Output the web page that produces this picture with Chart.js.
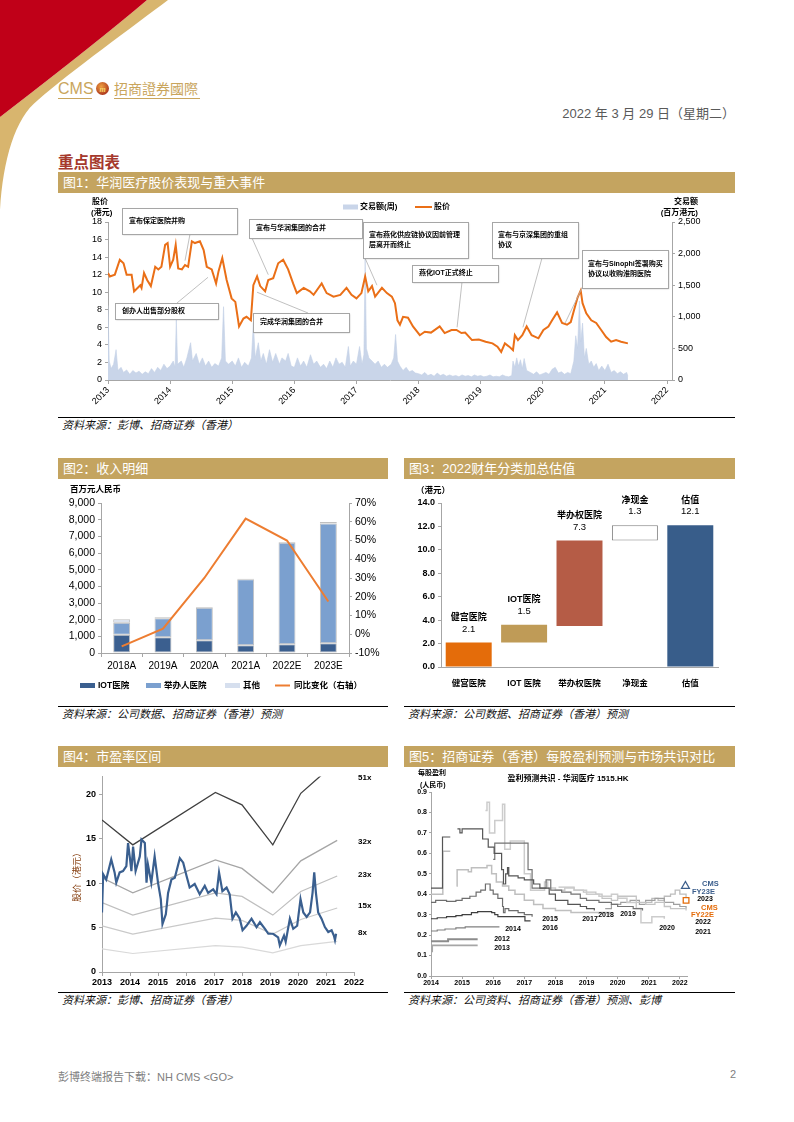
<!DOCTYPE html>
<html>
<head>
<meta charset="utf-8">
<title>华润医疗 重点图表</title>
<script src="https://cdn.jsdelivr.net/npm/chart.js@4.4.1/dist/chart.umd.min.js"></script>
<style>
  body { margin: 0; background: #fff; }
  #page { position: relative; width: 794px; height: 1122px; overflow: hidden; background: #fff;
          font-family: "Liberation Sans", "Noto Sans CJK SC", sans-serif; }
  .t { position: absolute; white-space: nowrap; }
  .bar { position: absolute; height: 21px; background: #c4a460; color: #fff; font-size: 13px;
         line-height: 21px; padding-left: 5px; box-sizing: border-box; white-space: nowrap; }
  .src { position: absolute; border-top: 1.2px solid #000; font-size: 11px; font-style: italic;
         line-height: 15px; padding-left: 4px; box-sizing: border-box; white-space: nowrap; color: #111; }
  canvas { position: absolute; }
</style>
</head>
<body>
<div id="page">
  <svg class="t" style="left:0;top:0" width="794" height="230">
    <path d="M0,0 L168,0 C135,25 70,72 38,100 C15,118 3,160 0,210 L0,117 Q100,40 147,0 Z" fill="#d8b56e"/>
    <path d="M0,0 L147,0 Q100,40 0,117 Z" fill="#c00018"/>
    <text x="58" y="94" font-size="16" fill="#c9a55c" font-family="Liberation Sans">CMS</text>
    <line x1="58" y1="98.5" x2="92" y2="98.5" stroke="#c9a55c" stroke-width="1"/>
    <defs><radialGradient id="lg" cx="40%" cy="35%" r="70%"><stop offset="0" stop-color="#f0a040"/><stop offset="1" stop-color="#a8301a"/></radialGradient></defs>
    <circle cx="102.5" cy="88.5" r="6.5" fill="url(#lg)"/>
    <text x="102.5" y="91.5" font-size="8" font-style="italic" font-weight="bold" text-anchor="middle" fill="#f7d56a" font-family="Liberation Serif">m</text>
    <text x="114" y="94" font-size="14" fill="#c9a55c" font-family="Noto Sans CJK TC">招商證券國際</text>
    <line x1="114" y1="98.5" x2="200" y2="98.5" stroke="#c9a55c" stroke-width="1"/>
  </svg>

  <div class="t" style="right:59px;top:103px;font-size:13px;color:#595959;">2022 年 3 月 29 日（星期二）</div>
  <div class="t" style="left:58px;top:150px;font-size:15.5px;font-weight:bold;color:#a5392c;">重点图表</div>

  <div class="bar" style="left:58px;top:172px;width:677px;">图1：华润医疗股价表现与重大事件</div>
  <canvas id="c1" width="677" height="223" style="left:58px;top:193px;"></canvas>
  <div class="src" style="left:58px;top:417px;width:677px;">资料来源：彭博、招商证券（香港）</div>

  <div class="bar" style="left:58px;top:458px;width:330px;">图2：收入明细</div>
  <canvas id="c2" width="332" height="225" style="left:58px;top:481px;"></canvas>
  <div class="src" style="left:58px;top:706px;width:330px;">资料来源：公司数据、招商证券（香港）预测</div>

  <div class="bar" style="left:404px;top:458px;width:331px;">图3：2022财年分类加总估值</div>
  <canvas id="c3" width="331" height="225" style="left:404px;top:481px;"></canvas>
  <div class="src" style="left:404px;top:706px;width:331px;">资料来源：公司数据、招商证券（香港）预测</div>

  <div class="bar" style="left:58px;top:746px;width:330px;">图4：市盈率区间</div>
  <canvas id="c4" width="332" height="222" style="left:58px;top:768px;"></canvas>
  <div class="src" style="left:58px;top:992px;width:330px;">资料来源：彭博、招商证券（香港）</div>

  <div class="bar" style="left:404px;top:746px;width:331px;">图5：招商证券（香港）每股盈利预测与市场共识对比</div>
  <canvas id="c5" width="331" height="222" style="left:404px;top:768px;"></canvas>
  <div class="src" style="left:404px;top:992px;width:331px;">资料来源：公司资料、招商证券（香港）预测、彭博</div>

  <div class="t" style="left:58px;top:1068px;font-size:11px;color:#808080;">彭博终端报告下载：NH CMS &lt;GO&gt;</div>
  <div class="t" style="left:730px;top:1068px;font-size:11px;color:#808080;">2</div>
</div>

<script>
// ---------- 图1：股价 (港元) 与 交易额 (百万港元) ----------
const priceDates = [2013.00, 2013.03, 2013.11, 2013.19, 2013.25, 2013.30, 2013.38, 2013.42, 2013.52, 2013.54,
  2013.58, 2013.63, 2013.69, 2013.76, 2013.81, 2013.86, 2013.92, 2013.96, 2014.00, 2014.05,
  2014.09, 2014.13, 2014.19, 2014.24, 2014.29, 2014.35, 2014.40, 2014.48, 2014.54, 2014.59,
  2014.67, 2014.74, 2014.78, 2014.84, 2014.91, 2014.99, 2015.05, 2015.11, 2015.18, 2015.23,
  2015.30, 2015.34, 2015.40, 2015.45, 2015.53, 2015.58, 2015.66, 2015.74, 2015.82, 2015.90,
  2015.98, 2016.04, 2016.15, 2016.25, 2016.31, 2016.44, 2016.52, 2016.63, 2016.74, 2016.84,
  2016.92, 2017.00, 2017.08, 2017.14, 2017.19, 2017.25, 2017.30, 2017.41, 2017.49, 2017.57,
  2017.62, 2017.66, 2017.70, 2017.75, 2017.83, 2017.91, 2018.02, 2018.10, 2018.20, 2018.34,
  2018.42, 2018.53, 2018.61, 2018.69, 2018.75, 2018.86, 2018.97, 2019.08, 2019.19, 2019.27,
  2019.33, 2019.39, 2019.46, 2019.52, 2019.55, 2019.60, 2019.67, 2019.74, 2019.82, 2019.93,
  2020.01, 2020.09, 2020.15, 2020.23, 2020.31, 2020.39, 2020.45, 2020.50, 2020.56, 2020.61,
  2020.64, 2020.70, 2020.78, 2020.86, 2020.94, 2021.02, 2021.10, 2021.18, 2021.26, 2021.37];
const priceValues = [12.2, 11.8, 12.0, 13.7, 13.3, 12.0, 12.0, 10.1, 10.8, 10.5,
  12.2, 11.4, 10.7, 12.9, 12.6, 12.9, 15.4, 15.6, 12.9, 13.7,
  15.4, 12.7, 12.6, 13.1, 12.9, 15.8, 15.6, 15.8, 14.8, 12.9,
  12.6, 11.0, 12.4, 13.9, 11.4, 9.3, 8.9, 6.1, 7.0, 7.2,
  6.8, 10.8, 11.8, 10.7, 10.1, 11.4, 11.6, 13.3, 13.7, 12.6,
  11.0, 9.9, 10.5, 10.1, 9.7, 11.0, 9.9, 9.5, 9.7, 10.5,
  9.7, 9.3, 9.9, 11.8, 10.1, 10.7, 9.5, 10.5, 9.9, 9.5,
  8.75, 6.8, 6.3, 7.2, 7.1, 6.1, 5.1, 5.5, 5.4, 6.1,
  5.35, 5.7, 5.7, 5.35, 5.4, 4.55, 4.6, 4.36, 4.17, 3.8,
  3.2, 4.17, 3.8, 3.4, 5.1, 4.55, 5.1, 6.1, 5.1, 4.75,
  5.7, 6.1, 6.8, 7.7, 6.5, 6.3, 6.6, 7.9, 9.4, 10.2,
  8.75, 7.6, 6.8, 6.5, 5.7, 4.9, 4.36, 4.55, 4.36, 4.17];
const volDates = [
  2013.00, 2013.02, 2013.05, 2013.09, 2013.13, 2013.16, 2013.21, 2013.25, 2013.30, 2013.35, 2013.40, 2013.45,
  2013.50, 2013.55, 2013.60, 2013.65, 2013.70, 2013.75, 2013.80, 2013.85, 2013.90, 2013.95,
  2014.00, 2014.05, 2014.08, 2014.10, 2014.12, 2014.18, 2014.22, 2014.27, 2014.33, 2014.36, 2014.42, 2014.47,
  2014.52, 2014.57, 2014.62, 2014.67, 2014.72, 2014.78, 2014.83, 2014.86, 2014.89, 2014.94,
  2015.00, 2015.05, 2015.10, 2015.15, 2015.20, 2015.26, 2015.31, 2015.34, 2015.37, 2015.42, 2015.46, 2015.50,
  2015.55, 2015.60, 2015.65, 2015.70, 2015.76, 2015.80, 2015.86, 2015.90, 2015.95,
  2016.00, 2016.05, 2016.10, 2016.15, 2016.20, 2016.26, 2016.31, 2016.36, 2016.42, 2016.47, 2016.52, 2016.57,
  2016.62, 2016.67, 2016.72, 2016.77, 2016.82, 2016.87, 2016.90, 2016.95,
  2017.00, 2017.05, 2017.09, 2017.12, 2017.14, 2017.16, 2017.20, 2017.25, 2017.30, 2017.35, 2017.40, 2017.45,
  2017.50, 2017.56, 2017.60, 2017.63, 2017.66, 2017.70, 2017.75, 2017.80, 2017.85, 2017.90, 2017.95,
  2018.00, 2018.05, 2018.10, 2018.15, 2018.20, 2018.25, 2018.30, 2018.35, 2018.40, 2018.45, 2018.50, 2018.55,
  2018.60, 2018.65, 2018.70, 2018.75, 2018.80, 2018.85, 2018.90, 2018.95,
  2019.00, 2019.05, 2019.10, 2019.15, 2019.20, 2019.25, 2019.30, 2019.35, 2019.40, 2019.45, 2019.50, 2019.52,
  2019.55, 2019.58, 2019.61, 2019.64, 2019.67, 2019.70, 2019.74, 2019.80, 2019.85, 2019.90, 2019.95,
  2020.00, 2020.05, 2020.10, 2020.15, 2020.20, 2020.25, 2020.30, 2020.35, 2020.40, 2020.45, 2020.50, 2020.53,
  2020.56, 2020.59, 2020.61, 2020.64, 2020.67, 2020.70, 2020.74, 2020.78, 2020.82, 2020.86, 2020.90, 2020.95,
  2021.00, 2021.05, 2021.10, 2021.15, 2021.20, 2021.25, 2021.30, 2021.35, 2021.37];
const volValues = [
  1180, 300, 180, 250, 480, 150, 200, 120, 160, 90, 150, 110,
  140, 90, 130, 100, 180, 120, 200, 150, 250, 180,
  220, 300, 200, 950, 250, 300, 200, 350, 590, 300, 420, 250,
  350, 220, 300, 200, 260, 220, 350, 1160, 300, 250,
  300, 220, 350, 200, 280, 220, 350, 900, 350, 590, 300, 420,
  250, 480, 280, 420, 250, 350, 300, 420, 220,
  200, 350, 220, 300, 200, 400, 250, 300, 200, 250, 180, 300,
  200, 350, 250, 280, 200, 530, 220, 300,
  250, 530, 250, 400, 1950, 500, 350, 300, 250, 300, 200, 250,
  200, 250, 350, 720, 300, 220, 150, 200, 130, 150, 110,
  100, 80, 120, 70, 90, 60, 110, 70, 90, 60, 80, 60,
  70, 50, 80, 60, 70, 50, 80, 60,
  70, 50, 60, 80, 50, 60, 50, 80, 60, 50, 70, 300,
  200, 350, 220, 320, 180, 340, 150, 120, 90, 130, 80,
  100, 120, 90, 170, 200, 110, 130, 90, 120, 100, 300, 700,
  500, 1250, 600, 900, 350, 500, 250, 300, 200, 260, 150, 220,
  150, 250, 120, 150, 100, 130, 90, 120, 60];
const events1 = [
  ['宣布保定医院并购'], ['宣布与华润集团的合并'], ['宣布燕化供应链协议因前管理', '层离开而终止'],
  ['燕化IOT正式终止'], ['宣布与京深集团的重组', '协议'], ['宣布与Sinophi签署购买', '协议以收购淮阴医院'],
  ['创办人出售部分股权'], ['完成华润集团的合并']];
const eventDates = [2014.24, 2015.58, 2017.33, 2018.62, 2019.68, 2020.36, 2014.61, 2015.40];
const eventPrices = [13.6, 12.0, 10.8, 6.0, 6.0, 6.5, 11.7, 10.0];

// ---------- 图2：收入明细 (百万元人民币) ----------
const revCats = ['2018A', '2019A', '2020A', '2021A', '2022E', '2023E'];
const revIOT = [1100, 940, 760, 460, 520, 580];
const revJuban = [720, 1140, 1960, 3960, 6100, 7190];
const revOther = [200, 60, 40, 40, 40, 90];
const revYoY = [-6.5, 3, 30, 61.7, 50, 17.5];

// ---------- 图3：分类加总估值 (港元) ----------
const wfCats = ['健宫医院', 'IOT 医院', '举办权医院', '净现金', '估值'];
const wfNames = ['健宫医院', 'IOT医院', '举办权医院', '净现金', '估值'];
const wfValues = ['2.1', '1.5', '7.3', '1.3', '12.1'];
const wfLow = [0, 2.1, 3.5, 10.8, 0];
const wfHigh = [2.1, 3.6, 10.8, 12.1, 12.1];

// ---------- 图4：市盈率区间 (港元) ----------
const peDates = [2013.00, 2013.04, 2013.15, 2013.27, 2013.33, 2013.45, 2013.51, 2013.63, 2013.75, 2013.87,
  2013.93, 2013.99, 2014.05, 2014.11, 2014.20, 2014.35, 2014.41, 2014.53, 2014.59, 2014.64,
  2014.76, 2014.88, 2015.00, 2015.10, 2015.16, 2015.28, 2015.36, 2015.48, 2015.60, 2015.78,
  2015.90, 2016.02, 2016.13, 2016.31, 2016.49, 2016.67, 2016.79, 2016.97, 2017.09, 2017.18,
  2017.30, 2017.45, 2017.56, 2017.66, 2017.78, 2017.92, 2018.02, 2018.16, 2018.34, 2018.52,
  2018.64, 2018.82, 2018.94, 2019.11, 2019.29, 2019.35, 2019.50, 2019.56, 2019.71, 2019.83,
  2019.97, 2020.09, 2020.19, 2020.31, 2020.43, 2020.52, 2020.58, 2020.64, 2020.72, 2020.84,
  2020.96, 2021.08, 2021.20, 2021.28, 2021.32, 2021.36];
const pePrice = [6.7, 11.0, 10.4, 11.9, 12.65, 11.2, 10.05, 11.2, 11.35, 11.9,
  14.5, 13.0, 11.35, 14.1, 11.35, 13.0, 14.9, 14.5, 10.05, 12.1,
  10.05, 13.0, 10.05, 8.2, 5.4, 6.5, 8.9, 10.4, 10.6, 12.8,
  12.3, 10.8, 9.5, 9.9, 8.75, 9.7, 8.9, 9.3, 8.75, 11.2,
  9.1, 9.5, 8.75, 6.0, 6.7, 6.0, 4.7, 5.2, 6.0, 5.05,
  5.6, 4.86, 4.3, 4.3, 3.9, 3.0, 4.1, 3.4, 6.0, 4.86,
  5.2, 8.2, 6.7, 6.2, 6.7, 8.9, 11.2, 8.9, 6.7, 6.0,
  5.05, 4.5, 4.7, 4.1, 3.6, 4.3];
const bandDates = [2013.0, 2014.1, 2017.05, 2018.0, 2019.1, 2020.1, 2021.4];
const band51 = [17.1, 14.3, 20.2, 18.8, 14.3, 20.1, 23.7];
const band32 = [10.6, 8.9, 12.6, 11.65, 8.9, 12.5, 14.8];
const band23 = [7.8, 6.4, 8.9, 8.5, 6.4, 9.05, 10.8];
const band15 = [5.2, 4.27, 6.05, 5.8, 4.27, 5.9, 7.2];
const band8 = [2.6, 2.08, 2.97, 2.8, 2.15, 2.97, 3.45];
const bandNames = ['51x', '32x', '23x', '15x', '8x'];

// ---------- 图5：每股盈利共识 (人民币)，[年份, EPS] ----------
const eps2012 = [[2014.0, 0.17], [2014.55, 0.18], [2015.5, 0.18]];
const eps2013 = [[2014.0, 0.12], [2014.04, 0.15], [2015.5, 0.15]];
const eps2014 = [[2014.0, 0.22], [2014.2, 0.225], [2014.45, 0.23], [2014.8, 0.235], [2015.1, 0.24], [2016.2, 0.24]];
const eps2015 = [[2014.0, 0.28], [2014.2, 0.285], [2014.5, 0.29], [2014.8, 0.295], [2015.0, 0.30], [2015.3, 0.31],
  [2015.5, 0.315], [2015.95, 0.31], [2016.05, 0.30], [2016.15, 0.29], [2017.0, 0.29], [2017.02, 0.27], [2017.2, 0.27]];
const eps2016 = [[2014.0, 0.36], [2014.15, 0.37], [2014.5, 0.365], [2014.8, 0.37], [2015.0, 0.38], [2015.25, 0.39],
  [2015.45, 0.41], [2015.6, 0.42], [2015.75, 0.45], [2015.9, 0.42], [2016.0, 0.40], [2016.15, 0.38], [2016.3, 0.34],
  [2016.33, 0.31], [2016.38, 0.33], [2016.5, 0.32], [2016.8, 0.31], [2017.0, 0.30], [2017.25, 0.29]];
const eps2017 = [[2014.0, 0.43], [2014.37, 0.68], [2014.62, 0.68], [2014.7, null], [2014.85, 0.72], [2014.93, 0.70],
  [2015.0, 0.72], [2015.62, 0.72], [2015.66, 0.67], [2015.8, 0.67], [2015.84, 0.63], [2016.0, 0.63], [2016.03, 0.60],
  [2016.22, 0.60], [2016.27, 0.52], [2016.33, 0.45], [2016.4, 0.50], [2016.46, 0.53], [2016.5, 0.49], [2016.8, 0.48],
  [2017.0, 0.47], [2017.3, 0.45], [2017.5, 0.43], [2017.8, 0.40], [2018.0, 0.37], [2018.4, 0.35], [2018.8, 0.34],
  [2019.0, 0.33], [2019.25, 0.32]];
const eps2018 = [[2014.0, 0.40], [2014.38, 0.61], [2014.62, 0.61], [2014.7, null], [2014.82, 0.44], [2014.84, 0.52],
  [2015.2, 0.51], [2015.3, 0.53], [2015.6, 0.53], [2015.8, 0.54], [2015.95, 0.50], [2016.1, 0.46], [2016.3, 0.44],
  [2016.5, 0.42], [2016.7, 0.40], [2017.0, 0.37], [2017.3, 0.35], [2017.6, 0.33], [2018.0, 0.32], [2018.5, 0.31],
  [2019.0, 0.31], [2019.5, 0.31], [2019.75, 0.30]];
const eps2019 = [[2016.0, 0.57], [2016.05, 0.65], [2017.05, 0.65], [2017.12, 0.52], [2017.25, 0.43], [2017.6, 0.43],
  [2017.7, 0.47], [2017.85, 0.42], [2018.2, 0.41], [2018.5, 0.40], [2018.8, 0.38], [2019.0, 0.37], [2019.4, 0.36],
  [2019.8, 0.35], [2020.0, 0.34], [2020.5, 0.33], [2020.8, 0.32]];
const eps2020 = [[2015.75, 0.81], [2015.8, 0.85], [2015.88, 0.70], [2016.05, 0.76], [2016.3, 0.84], [2016.37, 0.62],
  [2016.55, 0.66], [2017.0, 0.50], [2017.2, 0.42], [2017.5, 0.42], [2017.65, 0.46], [2017.75, 0.43], [2018.0, 0.42],
  [2018.3, 0.43], [2018.6, 0.42], [2019.0, 0.40], [2019.4, 0.39], [2019.8, 0.40], [2020.0, 0.38], [2020.3, 0.36],
  [2020.6, 0.33], [2020.75, 0.26], [2021.0, 0.26], [2021.1, 0.29], [2021.5, 0.28]];
const eps2021 = [[2018.1, 0.435], [2018.6, 0.42], [2018.9, 0.41], [2019.3, 0.40], [2019.5, 0.38], [2019.8, 0.37],
  [2020.0, 0.39], [2020.5, 0.39], [2020.6, 0.36], [2020.9, 0.35], [2021.2, 0.36], [2021.5, 0.34], [2021.7, 0.33],
  [2022.0, 0.33], [2022.2, 0.32]];
const eps2022 = [[2019.6, 0.33], [2019.8, 0.35], [2020.1, 0.36], [2020.4, 0.37], [2020.7, 0.35], [2020.9, 0.37],
  [2021.2, 0.38], [2021.5, 0.36], [2021.8, 0.35], [2022.0, 0.34], [2022.2, 0.33]];
const eps2023 = [[2020.9, 0.36], [2021.1, 0.38], [2021.3, 0.37], [2021.5, 0.39], [2021.7, 0.40], [2021.85, 0.42],
  [2022.0, 0.40], [2022.2, 0.38]];
const cmsYears = [2022.18, 2022.2];
const cmsEps = [0.44, 0.37];

// ---------- 公共设置 ----------
const FONT = '"Liberation Sans", "Noto Sans CJK SC", sans-serif';
Chart.defaults.font.family = FONT;
Chart.defaults.color = '#000';
Chart.defaults.animation = false;
Chart.defaults.plugins.legend.display = false;
Chart.defaults.plugins.tooltip.enabled = false;

const AXIS = '#a6a6a6';
const fixW = w => s => { s.width = w; };
const fixH = h => s => { s.height = h; };

function txt(ctx, s, x, y, font, color, align) {
  ctx.save();
  ctx.font = font;
  ctx.fillStyle = color || '#000';
  ctx.textAlign = align || 'left';
  ctx.textBaseline = 'middle';
  ctx.fillText(s, x, y);
  ctx.restore();
}
function pairs(xs, ys) { return xs.map((x, i) => ({ x: x, y: ys[i] })); }

// ---------- 图1 ----------
const boxes1 = [ // 画布坐标: x, y, w, h, 引线起点
  { x: 64, y: 15, w: 115, h: 26, lx: 132, ly: 41 },
  { x: 191, y: 26, w: 113, h: 19, lx: 194, ly: 45 },
  { x: 305, y: 29, w: 105, h: 36, lx: 307, ly: 65 },
  { x: 354, y: 72, w: 86, h: 17, lx: 404, ly: 89 },
  { x: 434, y: 29, w: 86, h: 36, lx: 484, ly: 65 },
  { x: 524, y: 57, w: 86, h: 38, lx: 524, ly: 95 },
  { x: 57, y: 110, w: 103, h: 16, lx: 119, ly: 110 },
  { x: 195, y: 120, w: 96, h: 19, lx: 250, ly: 120 }
];

const overlay1 = {
  id: 'overlay1',
  afterDraw(chart) {
    const ctx = chart.ctx, sx = chart.scales.x, sy = chart.scales.y;
    const bold = 'bold 7px ' + FONT;
    boxes1.forEach((b, i) => {
      const tx = sx.getPixelForValue(eventDates[i]), ty = sy.getPixelForValue(eventPrices[i]);
      ctx.save();
      ctx.strokeStyle = '#b0b0b0'; ctx.lineWidth = 0.8;
      ctx.beginPath(); ctx.moveTo(b.lx, b.ly); ctx.lineTo(tx, ty); ctx.stroke();
      ctx.shadowColor = 'rgba(0,0,0,0.25)'; ctx.shadowOffsetX = 1; ctx.shadowOffsetY = 1; ctx.shadowBlur = 1.5;
      ctx.fillStyle = '#fff';
      ctx.fillRect(b.x, b.y, b.w, b.h);
      ctx.shadowColor = 'transparent';
      ctx.strokeStyle = '#a6a6a6'; ctx.lineWidth = 1;
      ctx.strokeRect(b.x + 0.5, b.y + 0.5, b.w, b.h);
      ctx.restore();
      const lines = events1[i];
      const cy = b.y + b.h / 2;
      if (lines.length === 1) txt(ctx, lines[0], b.x + 7, cy, bold);
      else { txt(ctx, lines[0], b.x + 6, cy - 5, bold); txt(ctx, lines[1], b.x + 6, cy + 5, bold); }
    });
    // 图例
    ctx.fillStyle = '#c9d5e9'; ctx.fillRect(285, 11.5, 15, 5);
    txt(ctx, '交易额(周)', 302, 14, 'bold 8px ' + FONT);
    ctx.strokeStyle = '#ea6f17'; ctx.lineWidth = 2;
    ctx.beginPath(); ctx.moveTo(357, 14); ctx.lineTo(374, 14); ctx.stroke();
    txt(ctx, '股价', 376, 14, 'bold 8px ' + FONT);
    // 轴标题
    txt(ctx, '股价', 34, 9, 'bold 8px ' + FONT);
    txt(ctx, '(港元)', 33, 20, 'bold 8px ' + FONT);
    txt(ctx, '交易额', 640, 9, 'bold 8px ' + FONT, '#000', 'right');
    txt(ctx, '(百万港元)', 640, 20, 'bold 8px ' + FONT, '#000', 'right');
  }
};

new Chart(document.getElementById('c1'), {
  type: 'line',
  data: {
    datasets: [
      { label: '股价', data: pairs(priceDates, priceValues), yAxisID: 'y', borderColor: '#ea6f17',
        borderWidth: 2, pointRadius: 0, tension: 0, order: 0 },
      { label: '交易额(周)', data: pairs(volDates, volValues), yAxisID: 'y2',
        fill: 'origin', backgroundColor: '#c9d5e9', borderColor: '#c3d0e6', borderWidth: 0.6,
        pointRadius: 0, tension: 0, order: 1 }
    ]
  },
  options: {
    responsive: false,
    layout: { padding: { top: 29, left: 0, right: 0, bottom: 0 } },
    scales: {
      x: { type: 'linear', min: 2013, max: 2022.08, afterFit: fixH(36),
        ticks: { stepSize: 1, includeBounds: false, autoSkip: false, minRotation: 45, maxRotation: 45,
          callback: v => String(v), font: { size: 9 }, padding: 1 },
        grid: { drawOnChartArea: false, tickLength: 4, color: AXIS }, border: { color: AXIS } },
      y: { position: 'left', min: 0, max: 18, afterFit: fixW(50),
        ticks: { stepSize: 2, font: { size: 9 }, padding: 3 },
        grid: { drawOnChartArea: false, tickLength: 3, color: AXIS }, border: { color: AXIS } },
      y2: { position: 'right', min: 0, max: 2500, afterFit: fixW(63),
        ticks: { stepSize: 500, font: { size: 9 }, padding: 3, callback: v => v.toLocaleString('en-US') },
        grid: { drawOnChartArea: false, tickLength: 3, color: AXIS }, border: { color: AXIS } }
    }
  },
  plugins: [overlay1]
});

// ---------- 图2 ----------
const overlay2 = {
  id: 'overlay2',
  afterDraw(chart) {
    const ctx = chart.ctx, f = 'bold 8.5px ' + FONT;
    txt(ctx, '百万元人民币', 12, 9, f);
    const items = [['#3b5f8f', 'IOT医院', 22], ['#7ba0cf', '举办人医院', 88], ['#d6dfee', '其他', 167]];
    items.forEach(it => {
      ctx.fillStyle = it[0]; ctx.fillRect(it[2], 202, 15, 5);
      txt(ctx, it[1], it[2] + 18, 204.5, f);
    });
    ctx.strokeStyle = '#ed7d31'; ctx.lineWidth = 2;
    ctx.beginPath(); ctx.moveTo(217, 204.5); ctx.lineTo(232, 204.5); ctx.stroke();
    txt(ctx, '同比变化（右轴）', 236, 204.5, f);
  }
};

new Chart(document.getElementById('c2'), {
  type: 'bar',
  data: {
    labels: revCats,
    datasets: [
      { type: 'line', label: '同比变化（右轴）', data: revYoY, yAxisID: 'y2', borderColor: '#ed7d31',
        borderWidth: 2, pointRadius: 0, tension: 0, order: 0 },
      { label: 'IOT医院', data: revIOT, backgroundColor: '#3b5f8f', borderColor: '#c0c0c0', borderWidth: 1,
        borderSkipped: false, order: 1 },
      { label: '举办人医院', data: revJuban, backgroundColor: '#7ba0cf', borderColor: '#c0c0c0', borderWidth: 1,
        borderSkipped: false, order: 1 },
      { label: '其他', data: revOther, backgroundColor: '#d6dfee', borderColor: '#c0c0c0', borderWidth: 1,
        borderSkipped: false, order: 1 }
    ]
  },
  options: {
    responsive: false,
    layout: { padding: { top: 22, left: 0, right: 0, bottom: 0 } },
    datasets: { bar: { barPercentage: 0.41, categoryPercentage: 1 } },
    scales: {
      x: { stacked: true, afterFit: fixH(53),
        ticks: { font: { size: 10 }, padding: 3 },
        grid: { drawOnChartArea: false, tickLength: 4, color: AXIS }, border: { color: AXIS } },
      y: { stacked: true, position: 'left', min: 0, max: 9000, afterFit: fixW(43),
        ticks: { stepSize: 1000, font: { size: 10.5 }, padding: 3, callback: v => v.toLocaleString('en-US') },
        grid: { drawOnChartArea: false, tickLength: 3, color: AXIS }, border: { color: AXIS } },
      y2: { position: 'right', min: -10, max: 70, afterFit: fixW(41),
        ticks: { stepSize: 10, font: { size: 10.5 }, padding: 3, callback: v => v + '%' },
        grid: { drawOnChartArea: false, tickLength: 3, color: AXIS }, border: { color: AXIS } }
    }
  },
  plugins: [overlay2]
});

// ---------- 图3 ----------
const overlay3 = {
  id: 'overlay3',
  afterDraw(chart) {
    const ctx = chart.ctx;
    txt(ctx, '（港元）', 12, 10, 'bold 8.5px ' + FONT);
    chart.getDatasetMeta(0).data.forEach((bar, i) => {
      txt(ctx, wfNames[i], bar.x, bar.y - 25, 'bold 9px ' + FONT, '#000', 'center');
      txt(ctx, wfValues[i], bar.x, bar.y - 13.5, '9.5px ' + FONT, '#000', 'center');
    });
  }
};

new Chart(document.getElementById('c3'), {
  type: 'bar',
  data: {
    labels: wfCats,
    datasets: [{
      data: wfLow.map((l, i) => [l, wfHigh[i]]),
      backgroundColor: ['#e46c0a', '#bf9b57', '#b55c46', '#ffffff', '#385d8a'],
      borderColor: ['#e46c0a', '#bf9b57', '#b55c46', '#7f7f7f', '#385d8a'],
      borderWidth: [0, 0, 0, 1, 0],
      borderSkipped: false,
      barPercentage: 0.83, categoryPercentage: 1
    }]
  },
  options: {
    responsive: false,
    layout: { padding: { top: 22, left: 0, right: 17, bottom: 0 } },
    scales: {
      x: { afterFit: fixH(39), ticks: { font: { size: 8.5, weight: 'bold' }, padding: 4 },
        grid: { display: false }, border: { color: AXIS } },
      y: { min: 0, max: 14, afterFit: fixW(37),
        ticks: { stepSize: 2, font: { size: 9, weight: 'bold' }, padding: 3, callback: v => v.toFixed(1) },
        grid: { drawOnChartArea: false, tickLength: 3, color: AXIS }, border: { color: AXIS } }
    }
  },
  plugins: [overlay3]
});

// ---------- 图4 ----------
const bandLabelY = [10, 74, 107, 138, 165];
const overlay4 = {
  id: 'overlay4',
  afterDraw(chart) {
    const ctx = chart.ctx;
    bandNames.forEach((n, i) => txt(ctx, n, 300, bandLabelY[i], 'bold 8px ' + FONT));
    ctx.save();
    ctx.translate(20, 107);
    ctx.rotate(-Math.PI / 2);
    txt(ctx, '股价（港元）', 0, 0, '9px ' + FONT, '#843c0c', 'center');
    ctx.restore();
  }
};

const bandStyle = [['#404040', 1.3], ['#a6a6a6', 1.3], ['#bfbfbf', 1.2], ['#c9c9c9', 1.2], ['#d9d9d9', 1.2]];
const bandSeries = [band51, band32, band23, band15, band8];

new Chart(document.getElementById('c4'), {
  type: 'line',
  data: {
    datasets: [
      { label: '股价', data: pairs(peDates, pePrice), borderColor: '#3a5f8f', borderWidth: 2.2,
        pointRadius: 0, tension: 0, order: 0 }
    ].concat(bandSeries.map((b, i) => ({
      label: bandNames[i], data: pairs(bandDates, b), borderColor: bandStyle[i][0],
      borderWidth: bandStyle[i][1], pointRadius: 0, tension: 0, order: 1
    })))
  },
  options: {
    responsive: false,
    layout: { padding: { top: 7, left: 0, right: 36, bottom: 0 } },
    scales: {
      x: { type: 'linear', min: 2013, max: 2022, afterFit: fixH(18),
        ticks: { stepSize: 1, includeBounds: false, autoSkip: false, maxRotation: 0, callback: v => String(v),
          font: { size: 9, weight: 'bold' }, padding: 1 },
        grid: { drawOnChartArea: false, tickLength: 4, color: AXIS }, border: { color: AXIS } },
      y: { min: 0, max: 22, afterFit: fixW(44),
        ticks: { stepSize: 5, includeBounds: false, font: { size: 9, weight: 'bold' }, padding: 3 },
        grid: { drawOnChartArea: false, tickLength: 3, color: AXIS }, border: { color: AXIS } }
    }
  },
  plugins: [overlay4]
});

// ---------- 图5 ----------
const epsSeries = [eps2012, eps2013, eps2014, eps2015, eps2016, eps2017, eps2018, eps2019, eps2020, eps2021, eps2022, eps2023];
const epsStyle = [['#8c8c8c', 2], ['#a6a6a6', 1.6], ['#808080', 1.2], ['#404040', 1.2], ['#6e6e6e', 1.2],
  ['#555555', 1.2], ['#bfbfbf', 1.5], ['#737373', 1.2], ['#cccccc', 1.5], ['#c4c4c4', 1.3], ['#a0a0a0', 1.2], ['#bdbdbd', 1.3]];
const epsLabels = ['2012', '2013', '2014', '2015', '2016', '2017', '2018', '2019', '2020', '2021', '2022', '2023'];
const epsLabelPos = [[98, 171], [98, 180], [109, 161], [146, 151], [146, 160], [186, 151], [202, 147], [224, 146],
  [263, 160], [299, 164], [299, 154], [301, 131]];

const overlay5 = {
  id: 'overlay5',
  afterDraw(chart) {
    const ctx = chart.ctx, f = 'bold 7px ' + FONT;
    txt(ctx, '盈利预测共识 - 华润医疗 1515.HK', 164, 11, 'bold 8px ' + FONT, '#000', 'center');
    txt(ctx, '每股盈利', 14, 5, 'bold 7px ' + FONT);
    txt(ctx, '(人民币)', 16, 17, 'bold 7px ' + FONT);
    txt(ctx, 'CMS', 298, 116, 'bold 7.5px ' + FONT, '#3b5e8c');
    txt(ctx, 'FY23E', 288, 124, 'bold 7.5px ' + FONT, '#3b5e8c');
    txt(ctx, 'CMS', 297, 140, 'bold 7.5px ' + FONT, '#e46c0a');
    txt(ctx, 'FY22E', 287, 147, 'bold 7.5px ' + FONT, '#e46c0a');
    epsLabels.forEach((l, i) => {
      const p = epsLabelPos[i];
      if (l === '2023') { ctx.fillStyle = '#fff'; ctx.fillRect(p[0] - 9, p[1] - 4, 18, 8); }
      txt(ctx, l, p[0], p[1], f, '#000', 'center');
    });
  }
};

new Chart(document.getElementById('c5'), {
  type: 'line',
  data: {
    datasets: epsSeries.map((s, i) => ({
      label: epsLabels[i], data: s.map(p => ({ x: p[0], y: p[1] })), stepped: 'before', spanGaps: false,
      borderColor: epsStyle[i][0], borderWidth: epsStyle[i][1], pointRadius: 0, order: 1
    })).concat([
      { label: 'CMS FY23E', data: [{ x: cmsYears[0], y: cmsEps[0] }], showLine: false, pointStyle: 'triangle',
        pointRadius: 4.5, borderColor: '#3b5e8c', backgroundColor: '#fff', pointBorderWidth: 1.3, clip: false, order: 0 },
      { label: 'CMS FY22E', data: [{ x: cmsYears[1], y: cmsEps[1] }], showLine: false, pointStyle: 'rect',
        pointRadius: 4, borderColor: '#e46c0a', backgroundColor: '#fff', pointBorderWidth: 1.3, clip: false, order: 0 }
    ])
  },
  options: {
    responsive: false,
    layout: { padding: { top: 24, left: 0, right: 48, bottom: 0 } },
    scales: {
      x: { type: 'linear', min: 2014, max: 2022.23, afterFit: fixH(14),
        ticks: { stepSize: 1, includeBounds: false, autoSkip: false, maxRotation: 0, callback: v => String(v),
          font: { size: 7, weight: 'bold' }, padding: 0 },
        grid: { drawOnChartArea: false, tickLength: 3, color: AXIS }, border: { color: AXIS } },
      y: { min: 0, max: 0.9, afterFit: fixW(27),
        ticks: { stepSize: 0.1, font: { size: 7, weight: 'bold' }, padding: 2, callback: v => v.toFixed(1) },
        grid: { drawOnChartArea: false, tickLength: 2, color: AXIS }, border: { color: AXIS } }
    }
  },
  plugins: [overlay5]
});
</script>
</body>
</html>
